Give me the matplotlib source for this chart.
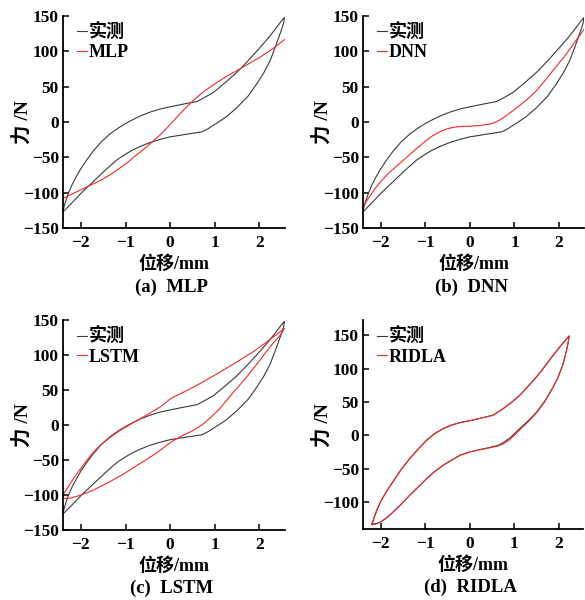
import matplotlib
matplotlib.use("Agg")
import matplotlib.pyplot as plt

plt.rcParams['font.family'] = ['Liberation Serif', 'Noto Sans CJK SC']
plt.rcParams['font.weight'] = 'bold'
plt.rcParams['axes.linewidth'] = 1.3

# measured hysteresis loop (panels a-c): upper branch then lower branch
meas_x = [-2.40, -2.35, -2.28, -2.20, -2.10, -2.00, -1.85, -1.72, -1.55, -1.35, -1.15,
          -0.97, -0.80, -0.67, -0.45, -0.22, 0.00, 0.11, 0.35, 0.60, 0.75, 0.97, 1.20,
          1.49, 1.75, 2.02, 2.20, 2.35, 2.48, 2.56,
          2.54, 2.50, 2.44, 2.36, 2.24, 2.10, 1.94, 1.75, 1.49, 1.25, 1.01, 0.85, 0.71,
          0.50, 0.35, 0.00, -0.22, -0.45, -0.67, -0.85, -1.00, -1.20, -1.45, -1.70,
          -2.00, -2.12, -2.24, -2.32, -2.40]
meas_y = [-125, -114, -101, -89, -77, -66, -52, -41, -28.5, -17, -8,
          -1, 4.5, 8.5, 14, 18.5, 21.5, 23, 26, 29, 34, 42, 54,
          70, 87, 106, 119, 131, 142, 148,
          140, 132, 121, 107, 87, 70, 54, 37, 20, 7, -3, -9.5, -14,
          -16, -17.5, -21, -24.5, -29, -34.5, -40, -45.5, -54, -68, -83,
          -101, -109, -117, -122, -127]

# MLP prediction
mlp_x = [-2.40, -2.20, -2.00, -1.80, -1.57, -1.30, -0.97, -0.80, -0.60, -0.40, -0.22,
         -0.05, 0.11, 0.30, 0.51, 0.75, 1.00, 1.30, 1.56, 1.80, 2.02, 2.30, 2.57]
mlp_y = [-108, -102, -96, -90, -83, -73, -58, -49, -39, -28, -18,
         -7, 4, 17, 30, 43, 54, 66, 75, 84, 92, 104, 117]

# DNN prediction
dnn_x = [-2.40, -2.30, -2.15, -2.00, -1.80, -1.60, -1.45, -1.25, -1.00, -0.85, -0.67,
         -0.50, -0.37, -0.20, 0.00, 0.20, 0.45, 0.60, 0.75, 0.92, 1.12, 1.30, 1.49,
         1.70, 1.94, 2.10, 2.24, 2.40, 2.57]
dnn_y = [-120, -110, -96, -84, -71, -60, -51.5, -40.5, -27, -20, -13.5,
         -9.5, -7.5, -6.3, -6, -5, -3, 0.5, 6, 14, 23.5, 33, 44,
         60, 79, 91, 103, 117, 132]

# LSTM prediction loop
lstm_x = [-2.40, -2.30, -2.15, -2.00, -1.85, -1.72, -1.55, -1.35, -1.15, -0.97, -0.75,
          -0.56, -0.40, -0.22, 0.00, 0.11, 0.40, 0.75, 1.10, 1.49, 1.85, 2.17, 2.40, 2.56,
          2.45, 2.24, 2.05, 1.87, 1.68, 1.49, 1.30, 1.12, 0.93, 0.75, 0.60, 0.45, 0.28,
          0.11, -0.05, -0.22, -0.40, -0.60, -0.80, -0.97, -1.15, -1.35, -1.55, -1.72,
          -1.87, -2.00, -2.12, -2.24, -2.33, -2.40, -2.40]
lstm_y = [-100, -90, -75, -62, -49, -39, -28, -18, -9, -2, 6,
          13, 19, 26, 37, 41, 50, 62, 75, 90, 104, 119, 130, 138,
          127, 112, 96, 81, 66, 52, 38, 24, 12, 2, -4.5, -10, -15,
          -21, -27.5, -36, -44, -52, -60, -67, -74, -81, -87.5, -93,
          -97, -100, -102.5, -104.5, -105, -105, -100]

# measured loop of the RIDLA test
meas2_x = [-2.20, -2.15, -2.09, -2.00, -1.86, -1.72, -1.55, -1.35, -1.15, -0.97, -0.80,
           -0.60, -0.40, -0.22, 0.00, 0.11, 0.30, 0.52, 0.75, 0.93, 1.12, 1.30, 1.49,
           1.68, 1.87, 2.05, 2.23,
           2.21, 2.17, 2.09, 1.98, 1.87, 1.68, 1.49, 1.30, 1.12, 0.90, 0.75, 0.64, 0.40,
           0.20, 0.00, -0.22, -0.40, -0.60, -0.80, -0.97, -1.15, -1.35, -1.55, -1.72,
           -1.87, -2.00, -2.10, -2.20]
meas2_y = [-134, -124, -113, -99, -83, -69, -52, -35, -20, -7.5, 2,
           10, 15.5, 19, 22, 23.5, 26.5, 30, 40, 49, 60, 73, 87,
           103, 120, 135, 149,
           140, 127, 106, 87, 72, 51, 34, 21, 10, -4, -11, -15, -19,
           -22, -25, -30, -37, -45, -55, -65, -77, -90, -104, -115,
           -124, -130, -133, -134]

# RIDLA prediction loop
ridla_x = [-2.20, -2.15, -2.09, -2.00, -1.86, -1.72, -1.55, -1.35, -1.15, -0.97, -0.80,
           -0.60, -0.40, -0.22, 0.00, 0.11, 0.30, 0.52, 0.75, 0.93, 1.12, 1.30, 1.49,
           1.68, 1.87, 2.05, 2.23,
           2.21, 2.17, 2.09, 1.98, 1.87, 1.68, 1.49, 1.30, 1.12, 0.90, 0.75, 0.64, 0.40,
           0.20, 0.00, -0.22, -0.40, -0.60, -0.80, -0.97, -1.15, -1.35, -1.55, -1.72,
           -1.87, -2.00, -2.10, -2.20]
ridla_y = [-133, -123, -112, -99, -83, -69, -52, -35, -20, -7, 2,
           10, 15.5, 19, 22, 23.5, 26.5, 30, 40, 49, 60, 73, 87,
           103, 120, 135, 149,
           140, 127, 106, 87, 72, 50, 33, 19.5, 8, -6.5, -13, -16, -19.5,
           -22, -25, -30, -37, -45, -55, -65, -77, -90, -104, -115,
           -124, -130, -132.5, -133]

panels = [
    dict(rect=[0.1077, 0.62, 0.3793, 0.3533], model=(mlp_x, mlp_y), meas=(meas_x, meas_y),
         name='MLP', cap='(a)  MLP', xlim=(-2.40, 2.57), ylim=(-150, 150),
         yticks=[-150, -100, -50, 0, 50, 100, 150]),
    dict(rect=[0.6205, 0.62, 0.3778, 0.3533], model=(dnn_x, dnn_y), meas=(meas_x, meas_y),
         name='DNN', cap='(b)  DNN', xlim=(-2.40, 2.56), ylim=(-150, 150),
         yticks=[-150, -100, -50, 0, 50, 100, 150]),
    dict(rect=[0.1077, 0.1167, 0.3793, 0.35], model=(lstm_x, lstm_y), meas=(meas_x, meas_y),
         name='LSTM', cap='(c)  LSTM', xlim=(-2.40, 2.57), ylim=(-150, 150),
         yticks=[-150, -100, -50, 0, 50, 100, 150]),
    dict(rect=[0.6205, 0.118, 0.3760, 0.3487], model=(ridla_x, ridla_y), meas=(meas2_x, meas2_y),
         name='RIDLA', cap='(d)  RIDLA', xlim=(-2.40, 2.54), ylim=(-141, 173),
         yticks=[-100, -50, 0, 50, 100, 150]),
]

fig = plt.figure(figsize=(5.85, 6.0), dpi=100)

for p in panels:
    ax = fig.add_axes(p['rect'])
    ax.plot(*p['meas'], color='#3a3a3a', lw=0.8, label='实测')
    ax.plot(*p['model'], color='#ee2a2a', lw=0.8, label=p['name'])
    ax.set_xlim(*p['xlim'])
    ax.set_ylim(*p['ylim'])
    ax.set_xticks([-2, -1, 0, 1, 2])
    ax.set_yticks(p['yticks'])
    ax.set_xticklabels(['\u22122', '\u22121', '0', '1', '2'])
    ax.set_yticklabels([str(v).replace('-', '\u2212') for v in p['yticks']])
    for s in ('top', 'right'):
        ax.spines[s].set_visible(False)
    ax.tick_params(direction='in', length=4, width=1.1, labelsize=12.5)
    ax.tick_params(axis='x', pad=5)
    ax.tick_params(axis='y', pad=3)
    for lab in ax.get_xticklabels() + ax.get_yticklabels():
        lab.set_fontweight('bold')
    ax.set_xlabel('位移/mm', fontsize=13, fontweight='bold', labelpad=3)
    ax.set_ylabel('力 /N', fontsize=14, fontweight='bold', labelpad=-6)
    ax.legend(loc='upper left', bbox_to_anchor=(-0.012, 1.04), frameon=False,
              handlelength=0.55, handletextpad=0.1, labelspacing=0.15,
              prop=dict(size=13, weight='bold'))
    ax.text(0.49, -0.28, p['cap'], transform=ax.transAxes, ha='center', va='center',
            fontsize=13.5, fontweight='bold')

fig.savefig('out.png', dpi=100)
